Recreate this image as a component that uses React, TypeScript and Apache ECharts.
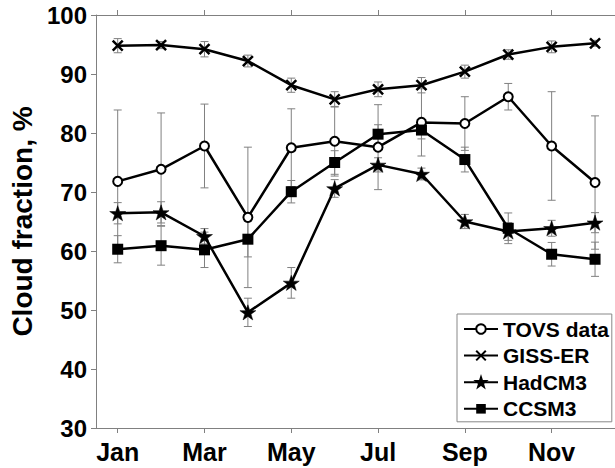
import React, { useEffect, useRef } from "react";
import * as echarts from "echarts";

const monthNames = ["Jan", "Feb", "Mar", "Apr", "May", "Jun", "Jul", "Aug", "Sep", "Oct", "Nov", "Dec"];
const labeledMonths = [1, 3, 5, 7, 9, 11];
const yTicks = [30, 40, 50, 60, 70, 80, 90, 100];

const tovs = [71.8, 73.85, 77.8, 65.7, 77.5, 78.6, 77.6, 81.8, 81.6, 86.15, 77.8, 71.6];
const tovsErr = [12.1, 9.55, 7.1, 11.9, 6.6, 5.9, 7.2, 5.7, 4.55, 2.25, 9.2, 11.3];
const giss = [94.8, 94.9, 94.2, 92.2, 88.1, 85.7, 87.4, 88.1, 90.4, 93.3, 94.6, 95.2];
const gissErr = [1.2, 0.6, 1.3, 1.0, 1.2, 1.3, 1.25, 1.3, 1.1, 0.8, 1.0, 0.5];
const had = [66.4, 66.55, 62.5, 49.6, 54.6, 70.6, 74.6, 73.05, 65.0, 63.3, 63.85, 64.8];
const hadErr = [1.8, 1.8, 1.3, 2.4, 2.6, 1.5, 1.2, 1.0, 1.2, 1.5, 1.35, 1.7];
const ccsm = [60.3, 60.9, 60.2, 62.0, 70.05, 75.0, 79.8, 80.5, 75.5, 63.85, 59.45, 58.6];
const ccsmErr = [2.3, 3.3, 3.0, 3.0, 1.9, 2.0, 1.6, 1.5, 2.1, 2.6, 2.0, 2.9];

const FONT = "'Liberation Sans', Arial, Helvetica, sans-serif";
const STAR = "path://M50,0 L61.8,35.1 L98.1,35.1 L68.8,56.7 L79.4,91 L50,70 L20.6,91 L31.2,56.7 L1.9,35.1 L38.2,35.1 Z";
const CROSS = "path://M0,0L10,10M10,0L0,10";

function pts(vals: number[]) {
  return vals.map((v, i) => [i + 1, v]);
}
function errs(vals: number[], e: number[]) {
  return vals.map((v, i) => [i + 1, v - e[i], v + e[i]]);
}

const errorRender = (params: any, api: any) => {
  const x = api.value(0);
  const lo = api.coord([x, api.value(1)]);
  const hi = api.coord([x, api.value(2)]);
  const cap = 4;
  const style = { stroke: "#808080", lineWidth: 1 };
  return {
    type: "group",
    children: [
      { type: "line", shape: { x1: lo[0], y1: lo[1], x2: hi[0], y2: hi[1] }, style },
      { type: "line", shape: { x1: lo[0] - cap, y1: lo[1], x2: lo[0] + cap, y2: lo[1] }, style },
      { type: "line", shape: { x1: hi[0] - cap, y1: hi[1], x2: hi[0] + cap, y2: hi[1] }, style },
    ],
  };
};

export default function App() {
  const ref = useRef<HTMLDivElement>(null);
  useEffect(() => {
    if (!ref.current) return;
    const chart = echarts.init(ref.current, null, { renderer: "svg" });
    const axisLine = { show: true, lineStyle: { color: "#808080", width: 1 } };
    const lineBase = { type: "line" as const, z: 3, lineStyle: { color: "#000", width: 2.5 } };
    const errSeries = (name: string, v: number[], e: number[]) => ({
      type: "custom" as const,
      name: name + "_err",
      z: 1,
      silent: true,
      renderItem: errorRender,
      encode: { x: 0, y: [1, 2] },
      data: errs(v, e),
    });
    chart.setOption({
      animation: false,
      backgroundColor: "#fff",
      textStyle: { fontFamily: FONT },
      grid: { left: 96, right: 0, top: 15, bottom: 40, containLabel: false },
      xAxis: [
        {
          type: "value",
          position: "bottom",
          min: 0.5,
          max: 12.46,
          axisLine,
          splitLine: { show: false },
          axisTick: { show: true, inside: false, length: 5, lineStyle: { color: "#808080" }, customValues: labeledMonths },
          axisLabel: {
            customValues: labeledMonths,
            formatter: (v: number) => monthNames[Math.round(v) - 1],
            color: "#000",
            fontSize: 25,
            fontWeight: "bold",
            fontFamily: FONT,
            margin: 11,
          },
        },
        {
          type: "value",
          position: "top",
          min: 0.5,
          max: 12.46,
          axisLine,
          splitLine: { show: false },
          axisTick: { show: true, inside: false, length: 5, lineStyle: { color: "#808080" }, customValues: labeledMonths },
          axisLabel: { show: false },
        },
      ],
      yAxis: {
        type: "value",
        min: 30,
        max: 100,
        interval: 10,
        axisLine,
        splitLine: { show: false },
        axisTick: { show: true, inside: false, length: 5, lineStyle: { color: "#808080" } },
        axisLabel: {
          color: "#000",
          fontSize: 24,
          fontWeight: "bold",
          fontFamily: FONT,
          margin: 9,
          customValues: yTicks,
        },
        name: "Cloud fraction, %",
        nameLocation: "middle",
        nameGap: 53,
        nameTextStyle: { color: "#000", fontSize: 28, fontWeight: "bold", fontFamily: FONT },
      },
      legend: {
        orient: "vertical",
        left: 457,
        top: 314,
        data: ["TOVS data", "GISS-ER", "HadCM3", "CCSM3"],
        itemWidth: 34,
        itemHeight: 12,
        itemGap: 4.6,
        padding: [4, 3, 2, 6],
        borderColor: "#888",
        borderWidth: 1,
        backgroundColor: "#fff",
        textStyle: { color: "#000", fontSize: 21, fontWeight: "bold", fontFamily: FONT, lineHeight: 22 },
      },
      series: [
        errSeries("TOVS data", tovs, tovsErr),
        errSeries("GISS-ER", giss, gissErr),
        errSeries("HadCM3", had, hadErr),
        errSeries("CCSM3", ccsm, ccsmErr),
        {
          ...lineBase,
          name: "TOVS data",
          data: pts(tovs),
          symbol: "circle",
          symbolSize: 9,
          itemStyle: { color: "#fff", borderColor: "#000", borderWidth: 2 },
        },
        {
          ...lineBase,
          name: "GISS-ER",
          data: pts(giss),
          symbol: CROSS,
          symbolSize: 10,
          itemStyle: { color: "#000", borderColor: "#000", borderWidth: 2.5 },
        },
        {
          ...lineBase,
          name: "HadCM3",
          data: pts(had),
          symbol: STAR,
          symbolSize: 16,
          symbolKeepAspect: true,
          itemStyle: { color: "#000", borderColor: "#000", borderWidth: 0.5 },
        },
        {
          ...lineBase,
          name: "CCSM3",
          data: pts(ccsm),
          symbol: "rect",
          symbolSize: 11,
          itemStyle: { color: "#000", borderColor: "#000", borderWidth: 0 },
        },
      ],
    });
    return () => chart.dispose();
  }, []);
  return <div ref={ref} style={{ position: "fixed", left: 0, top: 0, width: 615, height: 468 }} />;
}
